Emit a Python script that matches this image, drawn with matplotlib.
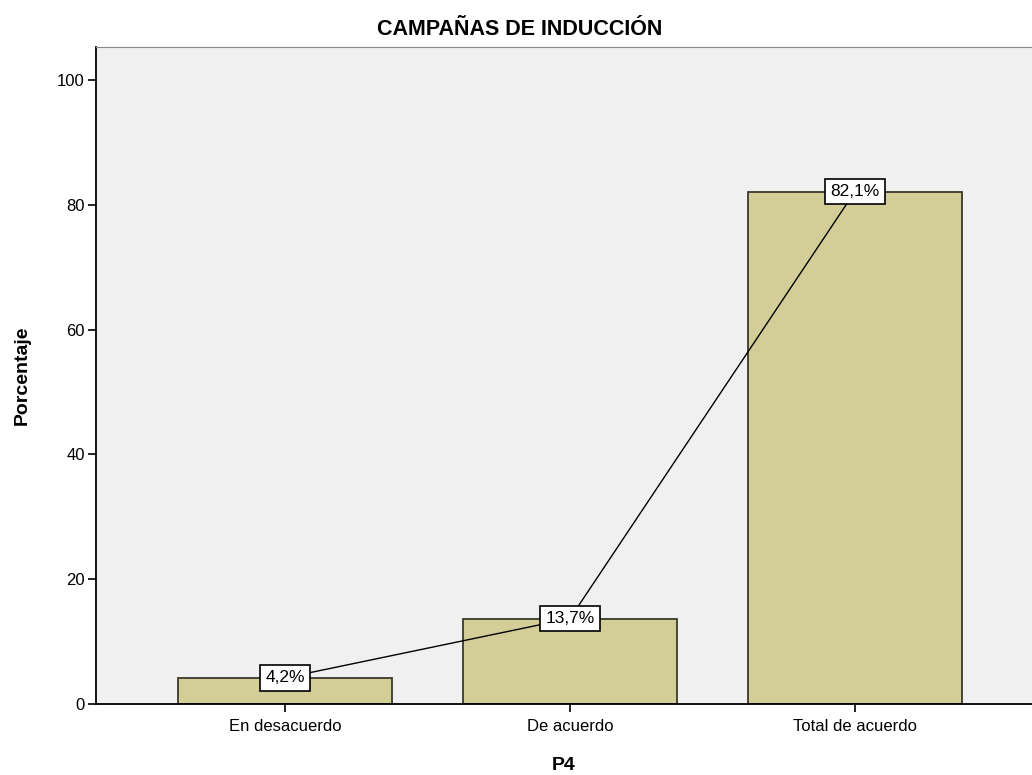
import matplotlib
matplotlib.use('Agg')
import matplotlib.pyplot as plt

categories = ['En desacuerdo', 'De acuerdo', 'Total de acuerdo']
percentages = [4.2, 13.7, 82.1]
labels = ['4,2%', '13,7%', '82,1%']

plt.rcParams['font.family'] = ['Liberation Sans', 'DejaVu Sans']

fig = plt.figure(figsize=(10.32, 7.75), dpi=100)
ax = fig.add_axes([0.093, 0.0916, 0.907, 0.8478])
ax.set_facecolor('#f0f0f0')

x = list(range(len(categories)))
ax.bar(x, percentages, width=0.75, color='#d3ce97', edgecolor='#3a3a2a', linewidth=1.3, zorder=2)
ax.plot(x, percentages, color='black', linewidth=1, zorder=3)

for xi, v, lab in zip(x, percentages, labels):
    ax.text(xi, v, lab, ha='center', va='center', fontsize=12.5, zorder=4,
            bbox=dict(boxstyle='square,pad=0.3', facecolor='white', edgecolor='black', linewidth=1.2))

ax.set_xlim(-0.664, 2.622)
ax.set_ylim(0, 105.3)
ax.set_yticks([0, 20, 40, 60, 80, 100])
ax.set_xticks(x)
ax.set_xticklabels(categories)
ax.tick_params(axis='both', direction='out', length=6, width=1.2, labelsize=12, colors='black')
ax.tick_params(axis='y', pad=2)
ax.tick_params(axis='x', pad=5)

ax.spines['right'].set_visible(False)
ax.spines['top'].set_color('#888888')
ax.spines['left'].set_linewidth(1.3)
ax.spines['bottom'].set_linewidth(1.3)

ax.set_ylabel('Porcentaje', fontsize=14, fontweight='bold', va='center')
ax.yaxis.set_label_coords(-0.079, 0.5)
ax.set_xlabel('P4', fontsize=14, fontweight='bold', va='center')
ax.xaxis.set_label_coords(0.5, -0.093)
fig.text(0.504, 0.962, 'CAMPAÑAS DE INDUCCIÓN', ha='center', va='center', fontsize=15.5, fontweight='bold')

fig.savefig('out.png', dpi=100)
